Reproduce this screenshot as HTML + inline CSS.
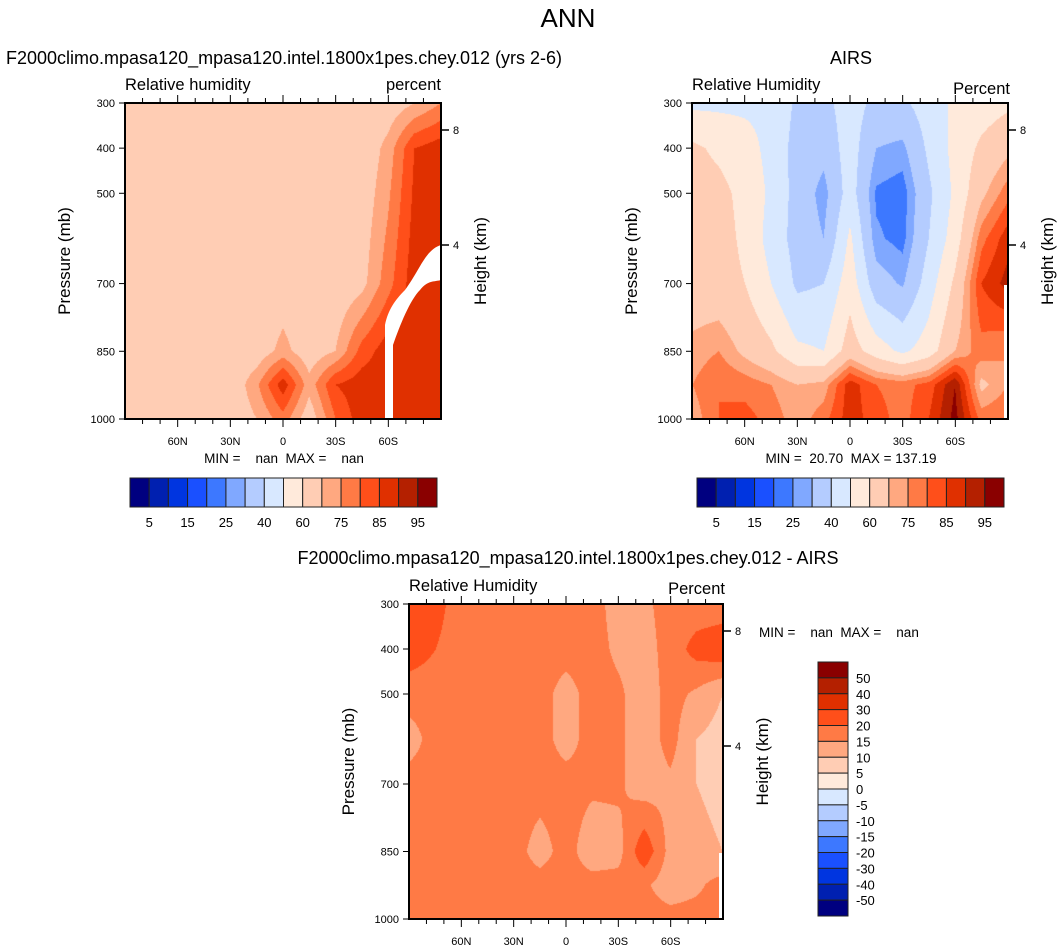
<!DOCTYPE html>
<html><head><meta charset="utf-8">
<style>
body{margin:0;background:#fff;width:1064px;height:952px;position:relative;overflow:hidden;font-family:"Liberation Sans",sans-serif;}
canvas{position:absolute;}
svg{position:absolute;left:0;top:0;}
text{white-space:pre;}
</style></head>
<body>
<canvas id="c1" width="316" height="316" style="left:125px;top:103px"></canvas>
<canvas id="c2" width="316" height="316" style="left:692px;top:103px"></canvas>
<canvas id="c3" width="314" height="315" style="left:409px;top:604px"></canvas>
<svg id="s" width="1064" height="952"></svg>
<script>
const lats=[90,75,60,45,30,15,0,-15,-30,-45,-60,-75,-90];
const levels=[300,400,500,600,700,850,925,1000];
const rhLevels=[5,10,15,20,25,30,40,50,60,70,75,80,85,90,95];
const diffLevels=[-50,-40,-30,-20,-15,-10,-5,0,5,10,15,20,30,40,50];
const palette=["#000080","#0020b0","#0035e0","#1a50ff","#3d78ff","#80a8ff","#b4ccff","#d8e8ff","#ffeadb","#ffcdb4","#ffa880","#ff7a45","#ff4f1a","#e03000","#b42000","#8a0000"];
const xTickLabels=["60N","30N","0","30S","60S"];
const xTickLats=[60,30,0,-30,-60];
const yTickLabels=[300,400,500,700,850,1000];
const modelRH=[
[65,65,65,65,65,65,65,65,65,65,66,70,75],
[65,65,65,65,65,65,65,65,65,65,72,85,88],
[65,65,65,65,65,65,65,65,65,66,74,86,88],
[65,65,65,65,65,65,65,65,65,67,76,87,88],
[65,65,65,65,65,65,66,65,65,68,78,88,88],
[65,65,65,65,65,66,72,66,70,82,88,88,88],
[65,65,65,65,65,74,88,72,85,88,88,88,88],
[65,65,65,65,65,70,78,66,80,88,88,88,88]];
const airsRH=[
[48,48,48,48,38,37,45,37,38,45,52,55,58],
[62,58,54,47,36,33,45,30,28,42,53,62,68],
[65,63,57,48,36,27,45,24,22,38,52,68,78],
[65,64,58,46,36,30,52,26,23,40,55,78,88],
[65,64,60,50,38,40,56,34,29,45,62,85,92],
[72,75,68,62,52,50,65,55,48,55,70,78,75],
[75,80,78,75,70,72,88,80,78,82,95,68,75],
[72,80,82,78,72,78,88,82,78,85,97,78,80]];
const diffRH=[
[24,22,17,17,17,17,17,17,13,14,17,17,17],
[23,20,17,17,17,17,17,17,14,13,17,22,24],
[17,17,17,17,17,17,13,17,16,12,17,14,10],
[13,17,17,17,17,17,13,17,16,12,17,10,8],
[17,17,17,17,17,17,17,16,16,12,14,10,8],
[17,17,17,17,17,13,17,12,13,24,13,12,10],
[17,17,17,17,17,17,17,17,17,16,12,14,17],
[17,17,17,17,17,17,17,17,17,17,17,17,17]];

function classify(v,lv){let i=0;while(i<lv.length&&v>=lv[i])i++;return i;}
function hex(h){return [parseInt(h.substr(1,2),16),parseInt(h.substr(3,2),16),parseInt(h.substr(5,2),16)];}
const rgb=palette.map(hex);
function drawField(id,grid,lv){
  const c=document.getElementById(id),ctx=c.getContext('2d'),W=c.width,H=c.height;
  const img=ctx.createImageData(W,H);
  for(let y=0;y<H;y++){
    const p=300+y/(H-1)*700;
    let j=0;while(j<levels.length-2&&p>levels[j+1])j++;
    const ty=(p-levels[j])/(levels[j+1]-levels[j]);
    for(let x=0;x<W;x++){
      const lat=90-x/(W-1)*180;
      let i=0;while(i<lats.length-2&&lat<lats[i+1])i++;
      const tx=(lats[i]-lat)/(lats[i]-lats[i+1]);
      const v=(grid[j][i]*(1-tx)+grid[j][i+1]*tx)*(1-ty)+(grid[j+1][i]*(1-tx)+grid[j+1][i+1]*tx)*ty;
      const col=rgb[classify(v,lv)];
      const k=(y*W+x)*4;img.data[k]=col[0];img.data[k+1]=col[1];img.data[k+2]=col[2];img.data[k+3]=255;
    }
  }
  ctx.putImageData(img,0,0);
}
drawField('c1',modelRH,rhLevels);
drawField('c2',airsRH,rhLevels);
drawField('c3',diffRH,diffLevels);

const NS="http://www.w3.org/2000/svg",svg=document.getElementById('s');
function el(t,a,txt){const e=document.createElementNS(NS,t);for(const k in a)e.setAttribute(k,a[k]);if(txt!==undefined)e.textContent=txt;svg.appendChild(e);return e;}
function txt(x,y,s,size,anchor,name,rot){const a={x:x,y:y,'font-size':size,'text-anchor':anchor||'start',fill:'#000','font-family':'Liberation Sans, sans-serif'};if(rot)a.transform='rotate(-90 '+x+' '+y+')';const e=el('text',a,s);return e;}

function axes(px,py,w,h,pre){
  const xs=lat=>px+(90-lat)/180*w, ys=p=>py+(p-300)/700*h;
  const f=el('rect',{x:px,y:py,width:w,height:h,fill:'none',stroke:'#000','stroke-width':2});
  
  for(let lat=80;lat>=-80;lat-=10){const x=xs(lat),major=lat%30===0&&Math.abs(lat)<=60;
    el('line',{x1:x,y1:py+h,x2:x,y2:py+h+(major?8:5),stroke:'#000','stroke-width':1});
    el('line',{x1:x,y1:py,x2:x,y2:py-(major?8:5),stroke:'#000','stroke-width':1});}
  xTickLats.forEach((lat,i)=>txt(xs(lat),py+h+26,xTickLabels[i],11,'middle',pre+'-x-tick-label'));
  yTickLabels.forEach(p=>{el('line',{x1:px,y1:ys(p),x2:px-6,y2:ys(p),stroke:'#000'});txt(px-10,ys(p)+4,String(p),11,'end',pre+'-y-tick-label');});
  [[8,27],[4,142]].forEach(([k,o])=>{el('line',{x1:px+w,y1:py+o,x2:px+w+8,y2:py+o,stroke:'#000','stroke-width':1.5});txt(px+w+12,py+o+4,String(k),11,'start',pre+'-height-tick-label');});
  txt(px-55,py+h/2,'Pressure (mb)',17,'middle',pre+'-y-axis-title',true);
  txt(px+w+45,py+h/2,'Height (km)',17,'middle',pre+'-right-axis-title',true);
}
function hbar(x,y,w,h,pre){
  const bw=w/16;
  palette.forEach((c,i)=>{const r=el('rect',{x:x+i*bw,y:y,width:bw,height:h,fill:c,stroke:'#222','stroke-width':1});});
  rhLevels.forEach((v,i)=>{if(i%2===0)txt(x+(i+1)*bw,y+h+20,String(v),13,'middle',pre+'-colorbar-label');});
}
txt(568,27,'ANN',26,'middle','main-title');
// panel 1
txt(284,64,'F2000climo.mpasa120_mpasa120.intel.1800x1pes.chey.012 (yrs 2-6)',18,'middle','panel1-title');
txt(125,90,'Relative humidity',16.5,'start','panel1-variable-label');
txt(441,90,'percent',16.5,'end','panel1-units-label');
el('path',{d:'M441 245 C425 250 420 270 405 290 C395 300 388 310 385 325 L385 419 L393 419 L393 345 C400 325 410 300 420 290 C428 280 434 282 441 280 Z',fill:'#fff'});
axes(125,103,316,316,'panel1');
txt(284,463,'MIN =    nan  MAX =    nan',13.5,'middle','panel1-min-max');
hbar(130,478,307,29,'panel1');
// panel 2
txt(851,64,'AIRS',18,'middle','panel2-title');
txt(692,90,'Relative Humidity',16.5,'start','panel2-variable-label');
txt(1010,94,'Percent',16.5,'end','panel2-units-label');
el('rect',{x:1004,y:285,width:4,height:134,fill:'#fff'});
axes(692,103,316,316,'panel2');
txt(851,463,'MIN =  20.70  MAX = 137.19',13.5,'middle','panel2-min-max');
hbar(697,478,307,29,'panel2');
// panel 3
txt(568,564,'F2000climo.mpasa120_mpasa120.intel.1800x1pes.chey.012 - AIRS',18,'middle','panel3-title');
txt(409,591,'Relative Humidity',16.5,'start','panel3-variable-label');
txt(725,594,'Percent',16.5,'end','panel3-units-label');
el('rect',{x:719,y:853,width:4,height:66,fill:'#fff'});
axes(409,604,314,315,'panel3');
txt(759,637,'MIN =    nan  MAX =    nan',13.5,'start','panel3-min-max');
(function(){const x=818,y=662,w=30,h=254,bh=h/16;
  palette.slice().reverse().forEach((c,i)=>{const r=el('rect',{x:x,y:y+i*bh,width:w,height:bh,fill:c,stroke:'#222','stroke-width':1});});
  diffLevels.slice().reverse().forEach((v,i)=>txt(x+w+8,y+(i+1)*bh+5,String(v),13,'start','panel3-colorbar-label'));
})();
</script>
</body></html>
